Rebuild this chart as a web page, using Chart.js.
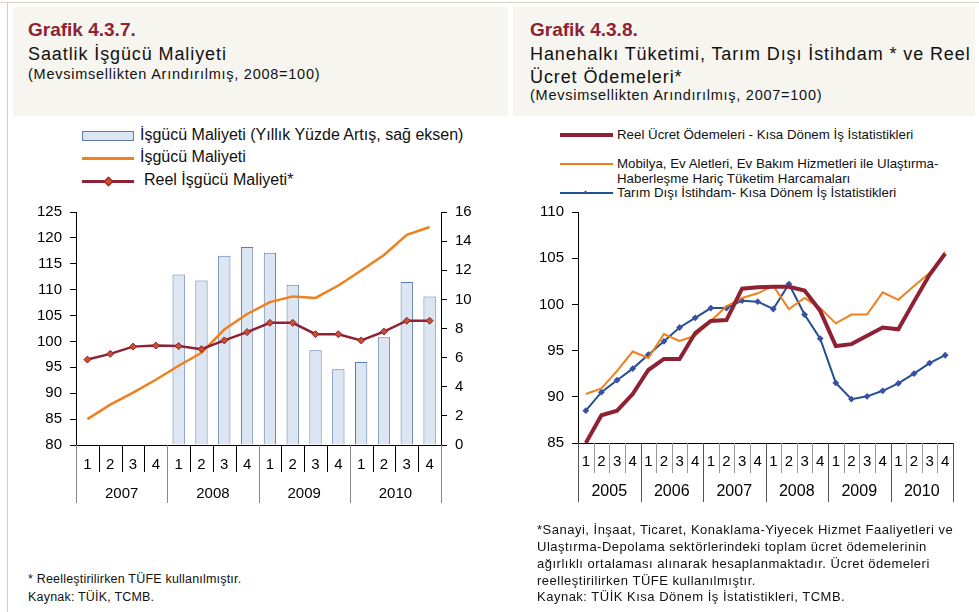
<!DOCTYPE html>
<html lang="tr">
<head>
  <meta charset="UTF-8">
  <title>Grafik 4.3.7 - 4.3.8</title>
  <script src="https://cdn.jsdelivr.net/npm/chart.js"></script>
  <style>
    * { font-family: 'Liberation Sans', Arial, sans-serif; }
    html, body { margin: 0; padding: 0; width: 979px; height: 612px; background: #fff; overflow: hidden; position: relative; }
    .frameTop { position: absolute; left: 0; top: 2px; width: 979px; height: 1px; background: #d8d0c2; }
    .frameLeft { position: absolute; left: 7px; top: 2px; width: 1px; height: 610px; background: #d3cdc4; }
    .head { position: absolute; top: 7px; height: 109px; background: #f6f5f0; }
    .txt { position: absolute; white-space: nowrap; color: #111; }
    .grafik { color: #8e2234; font-weight: bold; font-size: 19px; }
    .ttl { font-size: 18px; letter-spacing: 0.9px; }
    .sub { font-size: 14.5px; letter-spacing: 0.75px; }
    .lg { position: absolute; }
    canvas { position: absolute; }
  </style>
</head>
<body>
<div class="frameTop"></div>
<div class="frameLeft"></div>
<div class="head" style="left:13px; width:495px;"></div>
<div class="head" style="left:513px; width:462px;"></div>

<div class="txt grafik" style="left:28px; top:19px;">Grafik 4.3.7.</div>
<div class="txt ttl" style="left:28px; top:44px;">Saatlik İşgücü Maliyeti</div>
<div class="txt sub" style="left:28px; top:66px;">(Mevsimsellikten Arındırılmış, 2008=100)</div>

<div class="txt grafik" style="left:530px; top:19px;">Grafik 4.3.8.</div>
<div class="txt ttl" style="left:530px; top:44px;">Hanehalkı Tüketimi, Tarım Dışı İstihdam * ve Reel</div>
<div class="txt ttl" style="left:530px; top:67px;">Ücret Ödemeleri*</div>
<div class="txt sub" style="left:530px; top:87px;">(Mevsimsellikten Arındırılmış, 2007=100)</div>

<!-- legend, left chart -->
<div class="lg" style="left:82px; top:131px; width:50px; height:8px; background:#dce6f2; border:1px solid #5b7bab;"></div>
<div class="txt" style="left:140px; top:126px; font-size:16px;">İşgücü Maliyeti (Yıllık Yüzde Artış, sağ eksen)</div>
<div class="lg" style="left:82px; top:157px; width:52px; height:3px; background:#f0801e;"></div>
<div class="txt" style="left:140px; top:148px; font-size:16px;">İşgücü Maliyeti</div>
<div class="lg" style="left:82px; top:180px; width:52px; height:3px; background:#8e2234;"></div>
<div class="lg" style="left:105px; top:178px; width:5px; height:5px; background:#c8502e; border:1px solid #8e2234; transform:rotate(45deg);"></div>
<div class="txt" style="left:144px; top:171px; font-size:16px;">Reel İşgücü Maliyeti*</div>

<!-- legend, right chart -->
<div class="lg" style="left:560px; top:133px; width:53px; height:4px; background:#8e2234;"></div>
<div class="txt" style="left:617px; top:127px; font-size:13.3px;">Reel Ücret Ödemeleri - Kısa Dönem İş İstatistikleri</div>
<div class="lg" style="left:560px; top:163px; width:53px; height:2px; background:#f0801e;"></div>
<div class="txt" style="left:617px; top:156px; font-size:13.3px; line-height:15px;">Mobilya, Ev Aletleri, Ev Bakım Hizmetleri ile Ulaştırma-<br>Haberleşme Hariç Tüketim Harcamaları</div>
<div class="lg" style="left:560px; top:192px; width:53px; height:2px; background:#23508f;"></div>
<div class="lg" style="left:584px; top:191px; width:3px; height:3px; background:#3a4fa8; transform:rotate(45deg);"></div>
<div class="txt" style="left:617px; top:185px; font-size:13.3px;">Tarım Dışı İstihdam- Kısa Dönem İş İstatistikleri</div>

<canvas id="chartA" width="490" height="330" style="left:0; top:195px;"></canvas>
<canvas id="chartB" width="479" height="330" style="left:500px; top:195px;"></canvas>

<div class="txt" style="left:28px; top:572px; font-size:12.5px; letter-spacing:0.2px;">* Reelleştirilirken TÜFE kullanılmıştır.</div>
<div class="txt" style="left:28px; top:590px; font-size:12.5px; letter-spacing:0.2px;">Kaynak: TÜİK, TCMB.</div>

<div class="txt" style="left:537px; top:521px; font-size:13px; letter-spacing:0.5px; line-height:17px;">*Sanayi, İnşaat, Ticaret, Konaklama-Yiyecek Hizmet Faaliyetleri ve<br>Ulaştırma-Depolama sektörlerindeki toplam ücret ödemelerinin<br>ağırlıklı ortalaması alınarak hesaplanmaktadır. Ücret ödemeleri<br>reelleştirilirken TÜFE kullanılmıştır.</div>
<div class="txt" style="left:537px; top:589px; font-size:13px; letter-spacing:0.5px;">Kaynak: TÜİK Kısa Dönem İş İstatistikleri, TCMB.</div>

<script>
  // ---- Grafik 4.3.7 verileri ----
  const yearsA = ['2007', '2008', '2009', '2010'];
  const quartersA = yearsA.flatMap(() => ['1', '2', '3', '4']);
  const labourCostGrowth = [null, null, null, null, 11.7, 11.3, 13.0, 13.6, 13.2, 11.0, 6.5, 5.2, 5.7, 7.4, 11.2, 10.2];
  const labourCost = [85.0, 87.8, 90.1, 92.6, 95.3, 97.8, 102.3, 105.3, 107.6, 108.7, 108.4, 110.8, 113.7, 116.7, 120.6, 122.1];
  const realLabourCost = [96.5, 97.6, 99.0, 99.2, 99.1, 98.5, 100.2, 101.8, 103.6, 103.6, 101.4, 101.4, 100.2, 101.9, 104.0, 104.0];

  // ---- Grafik 4.3.8 verileri ----
  const yearsB = ['2005', '2006', '2007', '2008', '2009', '2010'];
  const quartersB = yearsB.flatMap(() => ['1', '2', '3', '4']);
  const realWages = [85.0, 88.0, 88.5, 90.3, 92.9, 94.1, 94.1, 96.9, 98.2, 98.3, 101.7, 101.85, 101.9, 101.9, 101.5, 99.3, 95.5, 95.7, 96.6, 97.5, 97.3, 100.3, 103.2, 105.5];
  const consumption = [90.3, 90.9, 92.8, 94.9, 94.2, 96.8, 96.05, 96.6, 98.2, 99.8, 100.7, 101.2, 102.0, 99.5, 100.7, 99.6, 97.95, 98.9, 98.9, 101.3, 100.5, 102.0, 103.4, 105.7];
  const employment = [88.5, 90.5, 91.8, 93.05, 94.55, 96.0, 97.5, 98.55, 99.6, 99.6, 100.4, 100.3, 99.5, 102.2, 98.9, 96.3, 91.5, 89.75, 90.05, 90.65, 91.45, 92.5, 93.65, 94.5];

  const FONT = "'Liberation Sans', Arial, sans-serif";

  // ceyrek / yil eksen etiketleri (alt kisim)
  function quarterAxis(years, o) {
    return {
      id: 'quarterAxis',
      afterDraw(chart) {
        const ctx = chart.ctx;
        const x = chart.scales.x;
        const bottom = chart.chartArea.bottom;
        const n = chart.data.labels.length;
        ctx.save();
        ctx.lineWidth = 1;
        // eksen cizgisi
        ctx.strokeStyle = '#000';
        ctx.beginPath();
        ctx.moveTo(chart.chartArea.left, bottom + 0.5);
        ctx.lineTo(chart.chartArea.right, bottom + 0.5);
        ctx.stroke();
        for (let i = 0; i <= n; i++) {
          const px = Math.round(x.getPixelForValue(i - 0.5)) + 0.5;
          const isYear = i % 4 === 0;
          ctx.strokeStyle = isYear ? o.yearLine : o.qLine;
          ctx.beginPath();
          ctx.moveTo(px, bottom);
          ctx.lineTo(px, bottom + (isYear ? o.yearLen : o.qLen));
          ctx.stroke();
        }
        ctx.fillStyle = '#000';
        ctx.textAlign = 'center';
        ctx.textBaseline = 'middle';
        ctx.font = o.qFont + 'px ' + FONT;
        chart.data.labels.forEach((lab, i) => {
          ctx.fillText(lab, x.getPixelForValue(i), bottom + o.qY);
        });
        ctx.font = o.yFont + 'px ' + FONT;
        years.forEach((y, k) => {
          ctx.fillText(y, x.getPixelForValue(k * 4 + 1.5), bottom + o.yY);
        });
        ctx.restore();
      }
    };
  }

  const tickFont = { family: FONT, size: 15 };

  new Chart(document.getElementById('chartA'), {
    type: 'bar',
    data: {
      labels: quartersA,
      datasets: [{
        type: 'line',
        label: 'Reel İşgücü Maliyeti*',
        data: realLabourCost,
        yAxisID: 'y',
        borderColor: '#8e2234',
        borderWidth: 2.5,
        pointStyle: 'rectRot',
        pointRadius: 3.5,
        pointBackgroundColor: '#c8502e',
        pointBorderColor: '#8e2234',
        pointBorderWidth: 1,
        order: 1
      }, {
        type: 'line',
        label: 'İşgücü Maliyeti',
        data: labourCost,
        yAxisID: 'y',
        borderColor: '#f0801e',
        borderWidth: 2.5,
        pointRadius: 0,
        order: 2
      }, {
        type: 'bar',
        label: 'İşgücü Maliyeti (Yıllık Yüzde Artış, sağ eksen)',
        data: labourCostGrowth,
        yAxisID: 'y1',
        backgroundColor: '#dce6f2',
        borderColor: '#5b7bab',
        borderWidth: { top: 1, left: 1, right: 1, bottom: 0 },
        categoryPercentage: 1,
        barPercentage: 0.54,
        order: 3
      }]
    },
    options: {
      responsive: false,
      animation: false,
      layout: { padding: { top: 16, bottom: 80, left: 0, right: 0 } },
      plugins: { legend: { display: false }, tooltip: { enabled: false } },
      scales: {
        x: { display: false, offset: true },
        y: {
          position: 'left', min: 80, max: 125,
          ticks: { stepSize: 5, color: '#000', font: tickFont, padding: 8 },
          grid: { drawOnChartArea: false, tickLength: 6, color: '#000' },
          border: { color: '#000' },
          afterFit: s => { s.width = 76; }
        },
        y1: {
          position: 'right', min: 0, max: 16,
          ticks: { stepSize: 2, color: '#000', font: tickFont, padding: 8 },
          grid: { drawOnChartArea: false, tickLength: 6, color: '#000' },
          border: { color: '#000' },
          afterFit: s => { s.width = 49; }
        }
      }
    },
    plugins: [quarterAxis(yearsA, { qLine: '#000', yearLine: '#888', qLen: 27, yearLen: 58, qY: 20, yY: 49, qFont: 15, yFont: 15 })]
  });

  new Chart(document.getElementById('chartB'), {
    type: 'line',
    data: {
      labels: quartersB,
      datasets: [{
        label: 'Tarım Dışı İstihdam- Kısa Dönem İş İstatistikleri',
        data: employment,
        borderColor: '#23508f',
        borderWidth: 2,
        pointStyle: 'rectRot',
        pointRadius: 2,
        pointBackgroundColor: '#3a4fa8',
        pointBorderColor: '#3a4fa8',
        order: 3
      }, {
        label: 'Mobilya, Ev Aletleri, Ev Bakım Hizmetleri ile Ulaştırma-Haberleşme Hariç Tüketim Harcamaları',
        data: consumption,
        borderColor: '#f0801e',
        borderWidth: 2,
        pointRadius: 0,
        order: 2
      }, {
        label: 'Reel Ücret Ödemeleri - Kısa Dönem İş İstatistikleri',
        data: realWages,
        borderColor: '#8e2234',
        borderWidth: 4,
        pointRadius: 0,
        order: 1
      }]
    },
    options: {
      responsive: false,
      animation: false,
      layout: { padding: { top: 15, bottom: 82, left: 0, right: 26 } },
      plugins: { legend: { display: false }, tooltip: { enabled: false } },
      scales: {
        x: { display: false, offset: true },
        y: {
          min: 85, max: 110,
          ticks: { stepSize: 5, color: '#000', font: tickFont, padding: 8 },
          grid: { drawOnChartArea: false, tickLength: 6, color: '#000' },
          border: { color: '#000' },
          afterFit: s => { s.width = 78; }
        }
      }
    },
    plugins: [quarterAxis(yearsB, { qLine: '#999', yearLine: '#555', qLen: 30, yearLen: 59, qY: 19, yY: 49, qFont: 15, yFont: 16 })]
  });
</script>
</body>
</html>
